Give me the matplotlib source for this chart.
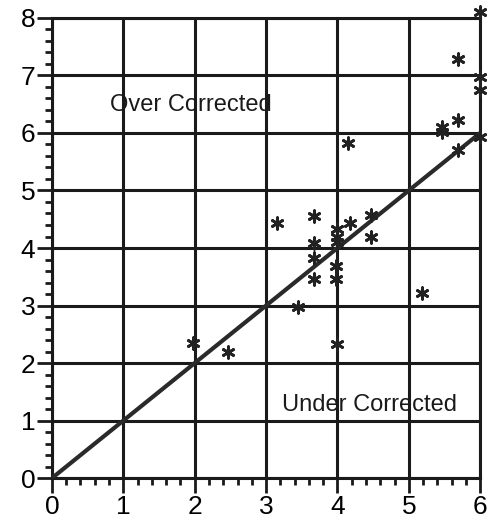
import matplotlib.pyplot as plt
from matplotlib.ticker import MultipleLocator

plt.rcParams["font.family"] = ["Liberation Sans", "DejaVu Sans"]

x_vals = [6.0, 5.69, 6.0, 6.0, 5.69, 5.46, 5.46, 6.0, 5.69, 4.15,
          3.16, 3.67, 4.18, 4.47, 4.47, 4.0, 4.0, 4.0, 3.67, 3.67,
          3.67, 3.98, 3.98, 3.45, 4.0, 5.18, 1.98, 2.46]
y_vals = [8.1, 7.29, 6.97, 6.75, 6.23, 6.1, 6.02, 5.93, 5.7, 5.83,
          4.43, 4.56, 4.43, 4.57, 4.19, 4.33, 4.19, 4.1, 4.08, 3.83,
          3.46, 3.69, 3.46, 2.97, 2.33, 3.22, 2.35, 2.19]
line_x = [0, 6]
line_y = [0, 6]
x_ticks = [0, 1, 2, 3, 4, 5, 6]
y_ticks = [0, 1, 2, 3, 4, 5, 6, 7, 8]

fig = plt.figure(figsize=(4.9, 5.26), dpi=100)
ax = fig.add_axes([0.106, 0.091, 0.874, 0.875])

ax.set_xlim(0, 6)
ax.set_ylim(0, 8)
ax.set_xticks(x_ticks)
ax.set_yticks(y_ticks)
ax.xaxis.set_minor_locator(MultipleLocator(0.2))
ax.yaxis.set_minor_locator(MultipleLocator(0.2))

ax.grid(True, which="major", color="#1a1a1a", linewidth=2.2)
ax.set_axisbelow(True)
for sp in ax.spines.values():
    sp.set_linewidth(2.2)
    sp.set_color("#1a1a1a")

ax.tick_params(which="major", direction="out", length=11, width=2,
               labelsize=19, color="#1a1a1a", pad=1)
ax.tick_params(which="minor", direction="out", length=5, width=2,
               color="#1a1a1a")

ax.plot(line_x, line_y, color="#2a2a2a", linewidth=3, solid_capstyle="round",
        zorder=3)
ax.scatter(x_vals, y_vals, marker=(6, 2, 0), s=70, color="#222222",
           linewidths=2, zorder=4, clip_on=False)

ax.text(0.81, 6.49, "Over Corrected", fontsize=17, va="center", ha="left",
        color="#1a1a1a", zorder=5)
ax.text(3.23, 1.27, "Under Corrected", fontsize=17, va="center", ha="left",
        color="#1a1a1a", zorder=5)

fig.savefig("out.png", dpi=100)
